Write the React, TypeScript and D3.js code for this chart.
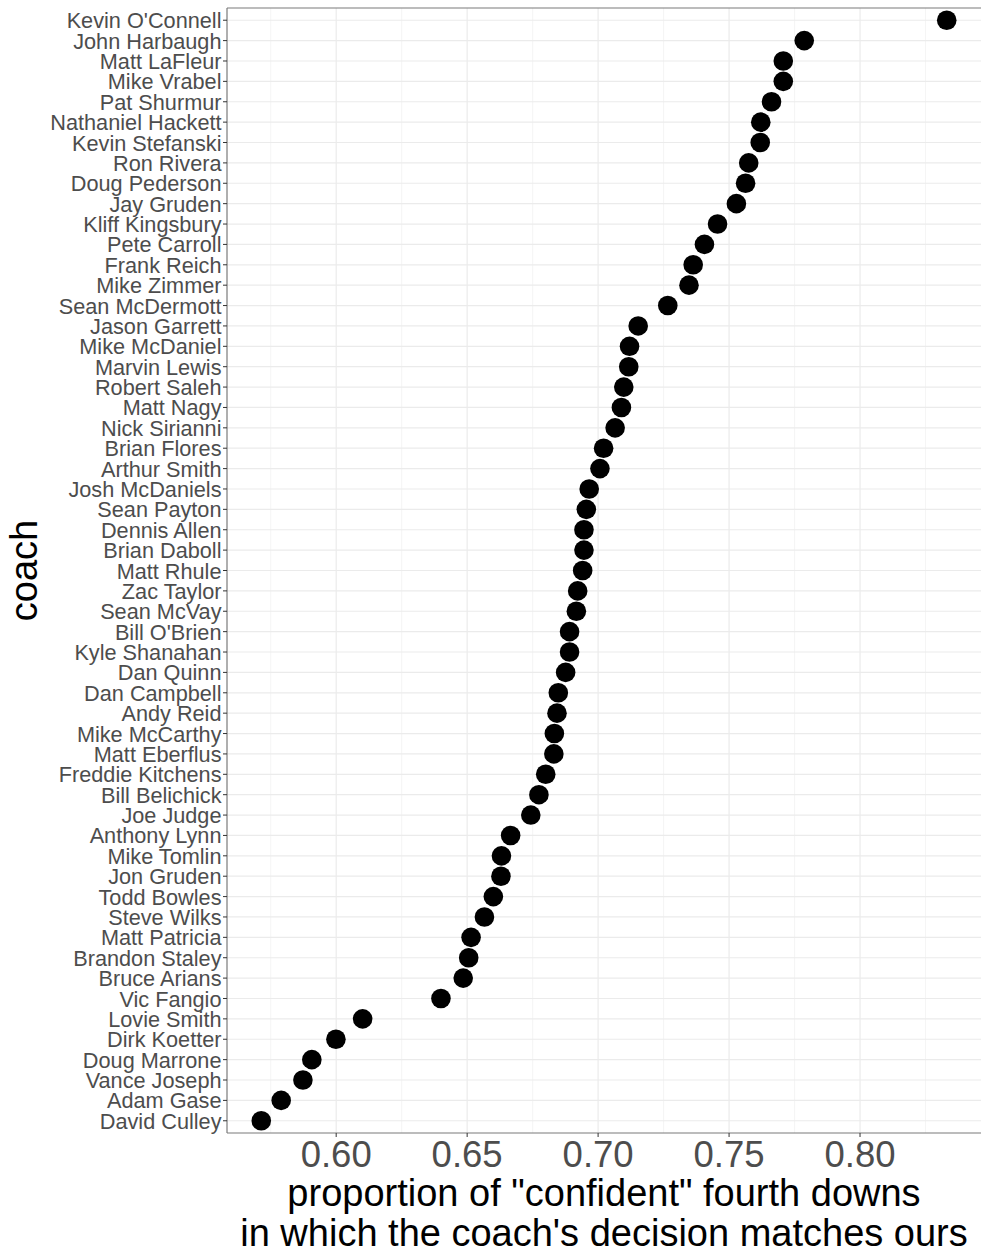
import React from "react";
import * as d3 from "d3";

const coaches = [
  "Kevin O'Connell", "John Harbaugh", "Matt LaFleur", "Mike Vrabel", "Pat Shurmur",
  "Nathaniel Hackett", "Kevin Stefanski", "Ron Rivera", "Doug Pederson", "Jay Gruden",
  "Kliff Kingsbury", "Pete Carroll", "Frank Reich", "Mike Zimmer", "Sean McDermott",
  "Jason Garrett", "Mike McDaniel", "Marvin Lewis", "Robert Saleh", "Matt Nagy",
  "Nick Sirianni", "Brian Flores", "Arthur Smith", "Josh McDaniels", "Sean Payton",
  "Dennis Allen", "Brian Daboll", "Matt Rhule", "Zac Taylor", "Sean McVay",
  "Bill O'Brien", "Kyle Shanahan", "Dan Quinn", "Dan Campbell", "Andy Reid",
  "Mike McCarthy", "Matt Eberflus", "Freddie Kitchens", "Bill Belichick", "Joe Judge",
  "Anthony Lynn", "Mike Tomlin", "Jon Gruden", "Todd Bowles", "Steve Wilks",
  "Matt Patricia", "Brandon Staley", "Bruce Arians", "Vic Fangio", "Lovie Smith",
  "Dirk Koetter", "Doug Marrone", "Vance Joseph", "Adam Gase", "David Culley",
];

const proportions = [
  0.8331, 0.7787, 0.7707, 0.7707, 0.7662,
  0.7621, 0.7619, 0.7575, 0.7563, 0.7528,
  0.7456, 0.7406, 0.7363, 0.7347, 0.7266,
  0.7153, 0.7120, 0.7117, 0.7098, 0.7089,
  0.7065, 0.7021, 0.7007, 0.6966, 0.6955,
  0.6946, 0.6946, 0.6941, 0.6922, 0.6917,
  0.6891, 0.6891, 0.6876, 0.6848, 0.6843,
  0.6833, 0.6831, 0.6800, 0.6774, 0.6743,
  0.6666, 0.6631, 0.6629, 0.6600, 0.6566,
  0.6515, 0.6506, 0.6485, 0.6400, 0.6101,
  0.5999, 0.5907, 0.5873, 0.5790, 0.5714,
];

const xTicks = [0.6, 0.65, 0.7, 0.75, 0.8];
const xMinorTicks = [0.575, 0.625, 0.675, 0.725, 0.775, 0.825];
const xTitleLines = ['proportion of "confident" fourth downs', "in which the coach's decision matches ours"];
const yTitle = "coach";

const W = 981;
const H = 1253;
const panel = { left: 227, right: 981, top: 8, bottom: 1133 };
const FONT = "'Liberation Sans', Arial, Helvetica, sans-serif";

export default function App() {
  const [lo, hi] = d3.extent(proportions) as [number, number];
  const pad = (hi - lo) * 0.05;
  const x = d3.scaleLinear().domain([lo - pad, hi + pad]).range([panel.left, panel.right]);
  const y = d3.scalePoint<string>().domain(coaches).range([panel.top, panel.bottom]).padding(0.6);

  return (
    <svg width={W} height={H} style={{ position: "absolute", left: 0, top: 0, background: "#fff" }} fontFamily={FONT}>
      <rect x={0} y={0} width={W} height={H} fill="#fff" />
      {xMinorTicks.map((t) => (
        <line key={"m" + t} x1={x(t)} x2={x(t)} y1={panel.top} y2={panel.bottom} stroke="#f2f2f2" strokeWidth={0.8} />
      ))}
      {xTicks.map((t) => (
        <line key={"g" + t} x1={x(t)} x2={x(t)} y1={panel.top} y2={panel.bottom} stroke="#ebebeb" strokeWidth={1.2} />
      ))}
      {coaches.map((c) => (
        <line key={"h" + c} x1={panel.left} x2={panel.right} y1={y(c)} y2={y(c)} stroke="#ebebeb" strokeWidth={1.2} />
      ))}
      {coaches.map((c, i) => (
        <circle key={"p" + c} cx={x(proportions[i])} cy={y(c)} r={9.8} fill="#000" />
      ))}
      <line x1={panel.left} x2={panel.left} y1={panel.top} y2={panel.bottom} stroke="#7a7a7a" strokeWidth={1.2} />
      <line x1={panel.left} x2={panel.right + 2} y1={panel.top} y2={panel.top} stroke="#7a7a7a" strokeWidth={1.2} />
      <line x1={panel.left} x2={panel.right + 2} y1={panel.bottom} y2={panel.bottom} stroke="#7a7a7a" strokeWidth={1.2} />
      {coaches.map((c) => (
        <g key={"yl" + c}>
          <line x1={panel.left - 4} x2={panel.left} y1={y(c)} y2={y(c)} stroke="#333" strokeWidth={1} />
          <text x={panel.left - 5.5} y={y(c)} dy="0.37em" textAnchor="end" fontSize={21.7} fill="#4d4d4d">
            {c}
          </text>
        </g>
      ))}
      {xTicks.map((t) => (
        <g key={"xl" + t}>
          <line x1={x(t)} x2={x(t)} y1={panel.bottom} y2={panel.bottom + 4} stroke="#333" strokeWidth={1} />
          <text x={x(t)} y={1167} textAnchor="middle" fontSize={36.5} fill="#4d4d4d">
            {d3.format(".2f")(t)}
          </text>
        </g>
      ))}
      {xTitleLines.map((s, i) => (
        <text key={"xt" + i} x={(panel.left + panel.right) / 2} y={1205.5 + i * 40.5} textAnchor="middle" fontSize={38} fill="#000">
          {s}
        </text>
      ))}
      <text transform={`translate(37, ${(panel.top + panel.bottom) / 2}) rotate(-90)`} textAnchor="middle" fontSize={38} fill="#000">
        {yTitle}
      </text>
    </svg>
  );
}
